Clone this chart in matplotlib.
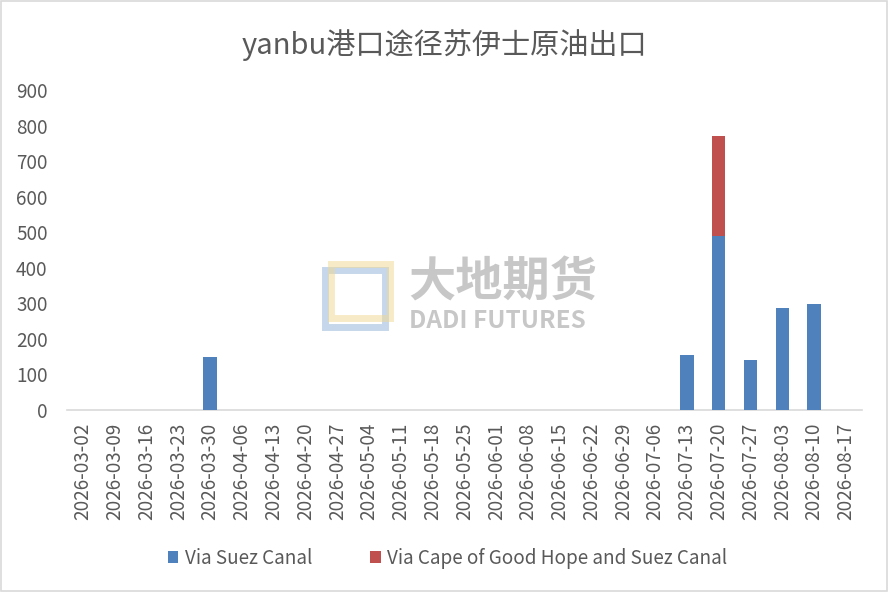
import numpy as np
import matplotlib
matplotlib.use('Agg')
import matplotlib.pyplot as plt
from matplotlib.patches import Rectangle

plt.rcParams['font.family'] = ['Noto Sans CJK SC', 'DejaVu Sans']

# weekly dates
dates = ["2026-03-02", "2026-03-09", "2026-03-16", "2026-03-23", "2026-03-30",
         "2026-04-06", "2026-04-13", "2026-04-20", "2026-04-27", "2026-05-04",
         "2026-05-11", "2026-05-18", "2026-05-25", "2026-06-01", "2026-06-08",
         "2026-06-15", "2026-06-22", "2026-06-29", "2026-07-06", "2026-07-13",
         "2026-07-20", "2026-07-27", "2026-08-03", "2026-08-10", "2026-08-17"]
via_suez = [0, 0, 0, 0, 150, 0, 0, 0, 0, 0, 0, 0, 0, 0, 0, 0, 0, 0, 0, 155,
            490, 142, 287, 299, 0]
via_cape = [0, 0, 0, 0, 0, 0, 0, 0, 0, 0, 0, 0, 0, 0, 0, 0, 0, 0, 0, 0,
            280, 0, 0, 0, 0]
yticks = [0, 100, 200, 300, 400, 500, 600, 700, 800, 900]

BLUE = "#4F81BD"
RED = "#C0504D"
TXT = "#595959"
FS = 13.6

fig = plt.figure(figsize=(8.88, 5.92), dpi=100)
ax = fig.add_axes([0.0755, 0.3074, 0.895, 0.5406])

x = np.arange(len(dates))
ax.bar(x, via_suez, width=0.42, color=BLUE, label="Via Suez Canal", zorder=3)
ax.bar(x, via_cape, width=0.42, bottom=via_suez, color=RED,
       label="Via Cape of Good Hope and Suez Canal", zorder=3)

ax.set_xlim(-0.5, len(dates) - 0.5)
ax.set_ylim(0, 900)
ax.set_yticks(yticks)
ax.set_xticks(x)
ax.set_xticklabels(dates, rotation=90)
ax.tick_params(axis='both', length=0, labelsize=FS, colors=TXT)
ax.tick_params(axis='y', pad=14)
ax.tick_params(axis='x', pad=9)
for side in ["top", "right", "left"]:
    ax.spines[side].set_visible(False)
ax.spines["bottom"].set_color("#d9d9d9")
ax.spines["bottom"].set_linewidth(1.2)

fig.text(0.5, 0.924, "yanbu港口途径苏伊士原油出口", ha='center', va='center',
         fontsize=21, color=TXT)

fig.legend(loc='center', bbox_to_anchor=(0.504, 0.057), ncol=2, frameon=False,
           fontsize=FS, handlelength=0.55, handleheight=0.55, columnspacing=3.1,
           handletextpad=0.35, labelcolor=TXT)

# watermark
fig.text(0.460, 0.522, "大地期货", ha='left', va='center', fontsize=34,
         color="#9a9a9a", alpha=0.55, fontweight='bold')
fig.text(0.461, 0.458, "DADI FUTURES", ha='left', va='center', fontsize=17.5,
         color="#9a9a9a", alpha=0.55, fontweight='bold')
fig.add_artist(Rectangle((0.366, 0.448), 0.068, 0.096, transform=fig.transFigure,
                         fill=False, edgecolor="#8fb0d8", lw=5, alpha=0.5))
fig.add_artist(Rectangle((0.373, 0.462), 0.066, 0.092, transform=fig.transFigure,
                         fill=False, edgecolor="#f0d890", lw=5, alpha=0.5))

# outer border
fig.add_artist(Rectangle((0.001, 0.001), 0.998, 0.998, transform=fig.transFigure,
                         fill=False, edgecolor="#d9d9d9", lw=1.2))

fig.savefig("out.png", dpi=100)
